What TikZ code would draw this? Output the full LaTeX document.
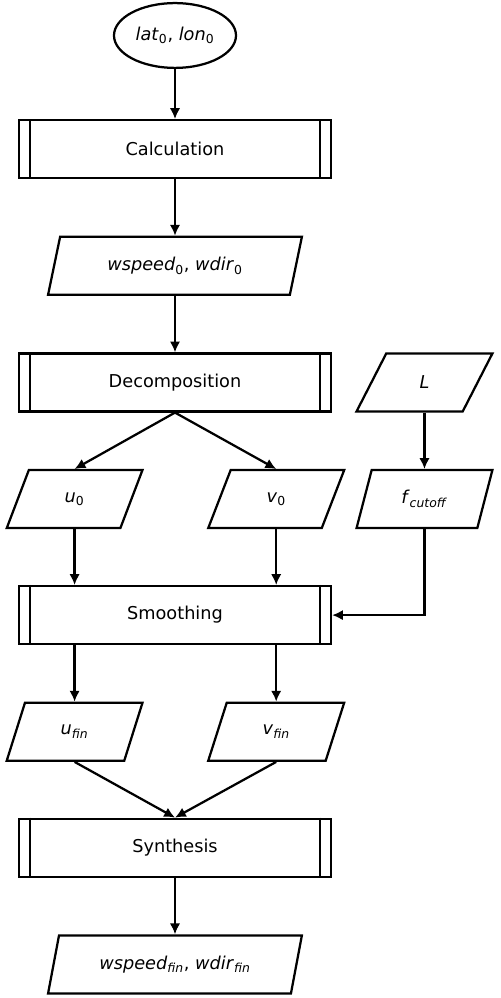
\documentclass[tikz,border=0pt]{standalone}
\usepackage{fontspec}
\setmainfont{DejaVu Sans}
\usetikzlibrary{arrows.meta, positioning, shapes.geometric}

\begin{document}
\begin{tikzpicture}[
    >={Latex[length=2.7mm, width=2.6mm]},
    font=\fontsize{12.6}{15}\selectfont,
    node distance=14.1mm,
    line width=1.6pt,
    startnode/.style={
        draw, ellipse, minimum width=30.5mm, minimum height=16.2mm,
        inner sep=1pt
    },
    procbox/.style={
        draw, rectangle, minimum width=78mm, minimum height=14.5mm
    },
    iobox/.style={
        draw, trapezium, trapezium left angle=72, trapezium right angle=108,
        trapezium stretches=true, minimum width=34mm, minimum height=14.5mm,
        inner sep=2pt
    },
    wideio/.style={iobox, minimum width=63.5mm},
    arrstyle/.style={->, line width=1.6pt},
]

% frame of the whole figure
\useasboundingbox (-4.375,0.8875) rectangle (8.125,-24.0625);

% === main column ===
\node[startnode] (start) {\textit{lat}\textsubscript{0}, \textit{lon}\textsubscript{0}};
\node[procbox, below=12.5mm of start] (calc) {Calculation};
\node[wideio, below=of calc] (w0) {\textit{wspeed}\textsubscript{0}, \textit{wdir}\textsubscript{0}};
\node[procbox, below=of w0] (dec) {Decomposition};

% === components ===
\node[iobox, below=of dec, xshift=-25.1mm] (u0) {\textit{u}\textsubscript{0}};
\node[iobox, below=of dec, xshift=25.3mm] (v0) {\textit{v}\textsubscript{0}};

% === cutoff branch ===
\node[iobox, right=9.5mm of dec] (L) {\textit{L}};
\node[iobox, below=of L] (fcut) {\textit{f}\textsubscript{\textit{cutoff}}};

% === smoothing and output ===
\node[procbox, below=43.1mm of dec] (smooth) {Smoothing};
\node[iobox, below=of smooth, xshift=-25.1mm] (ufin) {\textit{u}\textsubscript{\textit{fin}}};
\node[iobox, below=of smooth, xshift=25.3mm] (vfin) {\textit{v}\textsubscript{\textit{fin}}};
\node[procbox, below=43.1mm of smooth] (synth) {Synthesis};
\node[wideio, below=of synth] (wfin) {\textit{wspeed}\textsubscript{\textit{fin}}, \textit{wdir}\textsubscript{\textit{fin}}};

% double side bars of the process boxes
\foreach \n in {calc, dec, smooth, synth} {
    \draw ([xshift=3mm]\n.north west) -- ([xshift=3mm]\n.south west);
    \draw ([xshift=-3mm]\n.north east) -- ([xshift=-3mm]\n.south east);
}

% === Arrows ===
\draw[arrstyle] (start.south) -- (calc.north);
\draw[arrstyle] (calc.south) -- (w0.north);
\draw[arrstyle] (w0.south) -- (dec.north);
\draw[arrstyle] (dec.south) -- (u0.north);
\draw[arrstyle] (dec.south) -- (v0.north);
\draw[arrstyle] (L.south) -- (fcut.north);
\draw[arrstyle] (u0.south) -- (smooth.north -| u0.south);
\draw[arrstyle] (v0.south) -- (smooth.north -| v0.south);
\draw[arrstyle] (fcut.south) |- (smooth.east);
\draw[arrstyle] (smooth.south -| ufin.north) -- (ufin.north);
\draw[arrstyle] (smooth.south -| vfin.north) -- (vfin.north);
\draw[arrstyle] (ufin.south) -- (synth.north);
\draw[arrstyle] (vfin.south) -- (synth.north);
\draw[arrstyle] (synth.south) -- (wfin.north);

\end{tikzpicture}
\end{document}
